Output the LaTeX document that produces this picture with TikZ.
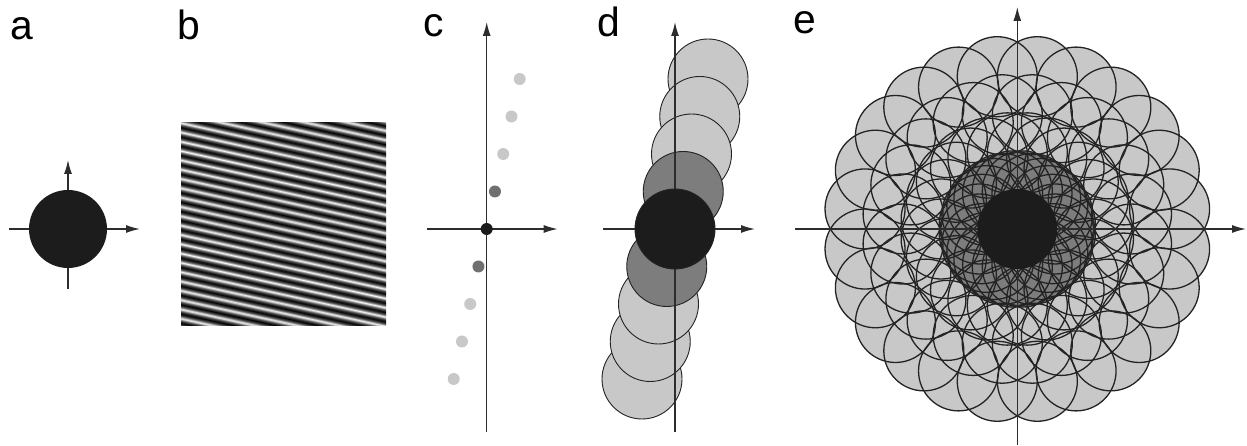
\documentclass[tikz,border=0pt]{standalone}
\usepackage{fontspec}
\setmainfont{Liberation Sans}
\usetikzlibrary{arrows.meta}
\definecolor{discLight}{RGB}{200,200,200}
\definecolor{discMid}{RGB}{125,125,125}
\definecolor{discCore}{RGB}{28,28,28}
\definecolor{axisInk}{RGB}{45,45,45}
\definecolor{rimInk}{RGB}{35,35,35}
\definecolor{gratHalf}{gray}{0.32}
% sine-like grating, period 9.1bp
\def\gratingspec{color(0bp)=(white)}
\foreach \i in {1,...,33}{%
  \pgfmathsetmacro\pa{(\i-0.75)*9.1}%
  \pgfmathsetmacro\pb{(\i-0.5)*9.1}%
  \pgfmathsetmacro\pc{(\i-0.25)*9.1}%
  \pgfmathsetmacro\pd{\i*9.1}%
  \xdef\gratingspec{\gratingspec; color(\pa bp)=(gratHalf); color(\pb bp)=(black); color(\pc bp)=(gratHalf); color(\pd bp)=(white)}%
}
\edef\tmp{\noexpand\pgfdeclareverticalshading{grating}{300bp}{\gratingspec}}\tmp

\begin{document}
\begin{tikzpicture}[x=1bp,y=1bp,
    axisline/.style={axisInk,line width=1.3bp,-{Latex[length=14bp,width=8bp]}},
    panellabel/.style={anchor=base west,inner sep=0pt,font=\fontsize{41}{41}\selectfont},
    rim/.style={draw=rimInk,line width=0.9bp}]
  \useasboundingbox (0,0) rectangle (1247,446);
  % ---- a: single spot
  \begin{scope}[shift={(68,217)}]
    \draw[axisline] (-59,0) -- (72,0);
    \draw[axisline] (0,-60) -- (0,69);
    \fill[discCore] (0,0) circle (39);
    \node[panellabel] (labA) at (-57.8,189) {a};
  \end{scope}
  % ---- b: grating
  \begin{scope}[shift={(283.5,221.5)}]
    \begin{scope}
      \clip (-102.5,-101.5) rectangle (102.5,101.5);
      \node[inner sep=0pt,rotate=-12.4] (grat) at (0,0) {\pgfuseshading{grating}};
    \end{scope}
    \node[panellabel] (labB) at (-105.9,184.5) {b};
  \end{scope}
  % ---- c: spectrum dots
  \begin{scope}[shift={(486.7,217)}]
    \foreach \k in {2,3,4}{
      \fill[discLight] (\k*8.25,\k*37.5) circle (6);
      \fill[discLight] (-\k*8.25,-\k*37.5) circle (6);
    }
    \fill[discMid!90!black] (8.25,37.5) circle (6);
    \fill[discMid!90!black] (-8.25,-37.5) circle (6);
    \draw[axisline] (-60,0) -- (71,0);
    \draw[axisline] (0,-203) -- (0,207);
    \fill[discCore] (0,0) circle (6);
    \node[panellabel] (labC) at (-63.4,192.3) {c};
  \end{scope}
  % ---- d: spots along the line
  \begin{scope}[shift={(675,217)}]
    \foreach \k in {4,3,2}{
      \filldraw[discLight,rim] (\k*8.25,\k*37.5) circle (40);
      \filldraw[discLight,rim] (-\k*8.25,-\k*37.5) circle (40);
    }
    \filldraw[discMid,rim] (8.25,37.5) circle (40);
    \filldraw[discMid,rim] (-8.25,-37.5) circle (40);
    \draw[axisline] (-72,0) -- (80,0);
    \draw[axisline] (0,-203) -- (0,207);
    \filldraw[discCore,rim] (0,0) circle (40);
    \node[panellabel] (labD) at (-78,192.3) {d};
  \end{scope}
  % ---- e: all orientations
  \begin{scope}[shift={(1017.3,217)}]
    \foreach \k in {4,3,2}
      \foreach \t in {7.5,22.5,...,352.5}
        \fill[discLight] (\t:{\k*38.4}) circle (40);
    \foreach \t in {7.5,22.5,...,352.5}
      \fill[discMid] (\t:38.4) circle (40);
    \foreach \k in {4,3,2,1}
      \foreach \t in {7.5,22.5,...,352.5}
        \draw[rim,line width=1.3bp] (\t:{\k*38.4}) circle (40);
    \draw[axisline] (-222.3,0) -- (228.7,0);
    \draw[axisline] (0,-216) -- (0,222);
    \fill[discCore] (0,0) circle (40);
    \node[panellabel] (labE) at (-224,195.7) {e};
  \end{scope}
\end{tikzpicture}
\end{document}
